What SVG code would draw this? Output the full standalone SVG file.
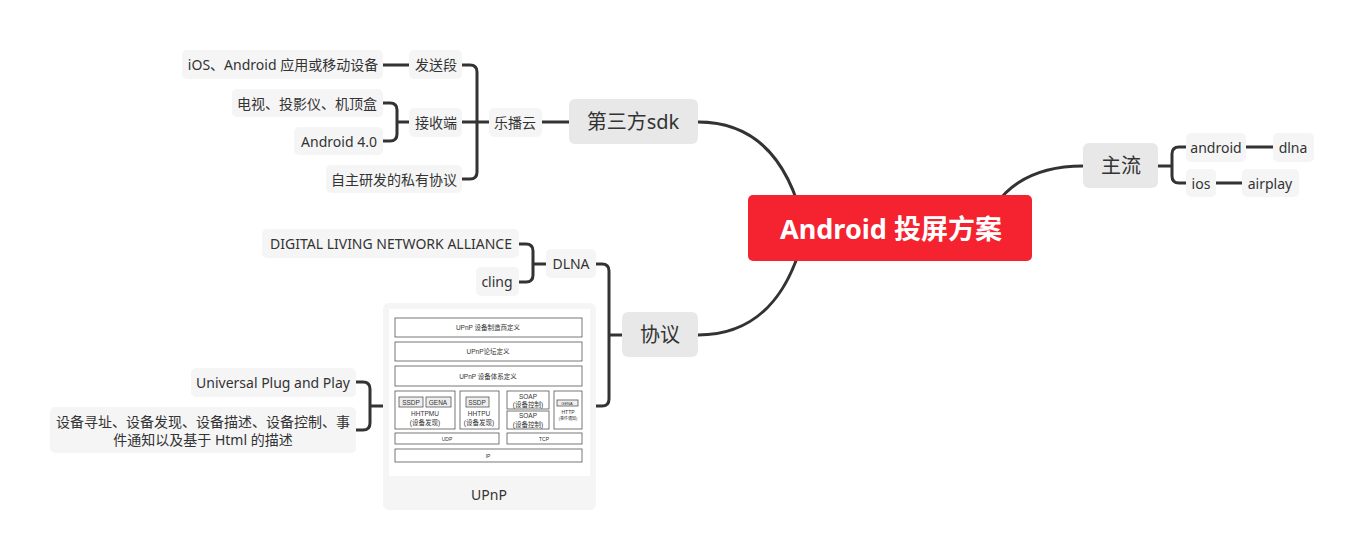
<svg xmlns="http://www.w3.org/2000/svg" width="1364" height="560" viewBox="0 0 1364 560">
<style>
.t{font-family:"Noto Sans","Noto Sans CJK SC",sans-serif;fill:#333;text-anchor:middle;dominant-baseline:central}
.s{font-size:14px}
.m{font-size:20px}
.sub{fill:#F5F5F5}
.main{fill:#E8E8E8}
.ln{fill:none;stroke:#333;stroke-width:3;stroke-linecap:round}
.ib{fill:#fff;stroke:#555;stroke-width:0.8}
.ig{fill:#eee;stroke:#555;stroke-width:0.8}
.it{font-family:"Liberation Sans","Noto Sans CJK SC",sans-serif;font-size:6.5px;fill:#333;text-anchor:middle;dominant-baseline:central}
</style>
<rect width="1364" height="560" fill="#fff"/>
<g id="connectors">
<path class="ln" d="M698 122 C755 122 790 160 805 230"/>
<path class="ln" d="M698 335 C755 335 790 297 805 230"/>
<path class="ln" d="M985 230 C995 190 1030 166 1083 166"/>
<path class="ln" d="M542 122 H569"/>
<path class="ln" d="M462 65 H470 Q477 65 477 72 V172 Q477 179 470 179 H462 M462 122 H489"/>
<path class="ln" d="M383 65 H409"/>
<path class="ln" d="M383 103 H390 Q397 103 397 110 V134 Q397 141 390 141 H383 M397 122 H409"/>
<path class="ln" d="M1158 166 H1172 M1186 147 H1179 Q1172 147 1172 154 V176 Q1172 183 1179 183 H1186"/>
<path class="ln" d="M1246 147 H1273 M1216 183 H1242"/>
<path class="ln" d="M519 244 H526 Q533 244 533 251 V275 Q533 282 526 282 H519 M533 264 H546"/>
<path class="ln" d="M596 264 H602 Q609 264 609 271 V399 Q609 406 602 406 H596 M609 335 H622"/>
<path class="ln" d="M356 382 H363 Q370 382 370 389 V423 Q370 430 363 430 H356 M370 406 H383"/>
</g>
<g id="root">
<rect x="748" y="195" width="284" height="66" rx="5" fill="#F5222F"/>
<text class="t" x="891" y="228" style="font-size:27px;font-weight:bold;fill:#fff">Android 投屏方案</text>
</g>
<g id="sdk">
<rect class="main" x="569" y="99" width="129" height="45" rx="6"/>
<text class="t m" x="633" y="121">第三方sdk</text>
</g>
<g id="xieyi">
<rect class="main" x="622" y="312" width="76" height="45" rx="6"/>
<text class="t m" x="660" y="334">协议</text>
</g>
<g id="zhuliu">
<rect class="main" x="1083" y="143" width="75" height="45" rx="6"/>
<text class="t m" x="1121" y="165">主流</text>
</g>
<g id="android">
<rect class="sub" x="1186" y="133" width="60" height="29" rx="5"/>
<text class="t s" x="1216" y="147">android</text>
</g>
<g id="dlna">
<rect class="sub" x="1273" y="133" width="41" height="29" rx="5"/>
<text class="t s" x="1293" y="147">dlna</text>
</g>
<g id="ios">
<rect class="sub" x="1186" y="169" width="30" height="28" rx="5"/>
<text class="t s" x="1201" y="183">ios</text>
</g>
<g id="airplay">
<rect class="sub" x="1242" y="169" width="57" height="28" rx="5"/>
<text class="t s" x="1270" y="183">airplay</text>
</g>
<g id="lebo">
<rect class="sub" x="489" y="108" width="53" height="29" rx="5"/>
<text class="t s" x="515" y="122">乐播云</text>
</g>
<g id="fasong">
<rect class="sub" x="409" y="50" width="53" height="29" rx="5"/>
<text class="t s" x="436" y="64">发送段</text>
</g>
<g id="jieshou">
<rect class="sub" x="409" y="108" width="53" height="29" rx="5"/>
<text class="t s" x="436" y="122">接收端</text>
</g>
<g id="siyou">
<rect class="sub" x="326" y="165" width="136" height="28" rx="5"/>
<text class="t s" x="394" y="179">自主研发的私有协议</text>
</g>
<g id="ios-android">
<rect class="sub" x="182" y="50" width="201" height="29" rx="5"/>
<text class="t s" x="283" y="64">iOS、Android 应用或移动设备</text>
</g>
<g id="tv">
<rect class="sub" x="232" y="89" width="151" height="28" rx="5"/>
<text class="t s" x="307" y="103">电视、投影仪、机顶盒</text>
</g>
<g id="android4">
<rect class="sub" x="294" y="127" width="89" height="28" rx="5"/>
<text class="t s" x="339" y="141">Android 4.0</text>
</g>
<g id="dlna-node">
<rect class="sub" x="546" y="249" width="50" height="29" rx="5"/>
<text class="t s" x="571" y="263">DLNA</text>
</g>
<g id="digital">
<rect class="sub" x="262" y="229" width="257" height="29" rx="5"/>
<text class="t s" x="391" y="243">DIGITAL LIVING NETWORK ALLIANCE</text>
</g>
<g id="cling">
<rect class="sub" x="476" y="267" width="43" height="29" rx="5"/>
<text class="t s" x="497" y="281">cling</text>
</g>
<g id="upnp">
<rect class="sub" x="383" y="303" width="213" height="207" rx="6"/>
<rect x="389" y="309" width="201" height="167" fill="#fff"/>
<rect class="ib" x="395" y="318" width="187" height="19"/>
<text class="it" x="488" y="327">UPnP 设备制造商定义</text>
<rect class="ib" x="395" y="342" width="187" height="19"/>
<text class="it" x="488" y="351">UPnP论坛定义</text>
<rect class="ib" x="395" y="366" width="187" height="20"/>
<text class="it" x="488" y="376">UPnP 设备体系定义</text>
<rect class="ib" x="395" y="391" width="60" height="38"/>
<rect class="ig" x="399" y="397" width="24" height="10"/>
<text class="it" x="411" y="402">SSDP</text>
<rect class="ig" x="426" y="397" width="25" height="10"/>
<text class="it" x="438" y="402">GENA</text>
<text class="it" x="425" y="413">HHTPMU</text>
<text class="it" x="425" y="422">(设备发现)</text>
<rect class="ib" x="460" y="391" width="39" height="38"/>
<rect class="ig" x="466" y="397" width="23" height="10"/>
<text class="it" x="477" y="402">SSDP</text>
<text class="it" x="479" y="413">HHTPU</text>
<text class="it" x="479" y="422">(设备发现)</text>
<rect class="ib" x="507" y="391" width="42" height="18"/>
<text class="it" x="528" y="396">SOAP</text>
<text class="it" x="528" y="404">(设备控制)</text>
<rect class="ib" x="507" y="411" width="42" height="18"/>
<text class="it" x="528" y="415">SOAP</text>
<text class="it" x="528" y="424">(设备控制)</text>
<rect class="ib" x="554" y="391" width="28" height="38"/>
<rect class="ig" x="557" y="400" width="21" height="6"/>
<text class="it" x="567" y="403" style="font-size:4px">GENA</text>
<text class="it" x="568" y="412" style="font-size:5px">HTTP</text>
<text class="it" x="568" y="418" style="font-size:4px">(事件通知)</text>
<rect class="ib" x="395" y="433" width="104" height="11"/>
<text class="it" x="447" y="438.5" style="font-size:5px">UDP</text>
<rect class="ib" x="507" y="433" width="75" height="11"/>
<text class="it" x="544" y="438.5" style="font-size:5px">TCP</text>
<rect class="ib" x="395" y="449" width="187" height="13"/>
<text class="it" x="488" y="455.5" style="font-size:5px">IP</text>
<text class="t s" x="489" y="494">UPnP</text>
</g>
<g id="upp">
<rect class="sub" x="191" y="368" width="165" height="29" rx="5"/>
<text class="t s" x="273" y="382">Universal Plug and Play</text>
</g>
<g id="desc">
<rect class="sub" x="50" y="407" width="306" height="46" rx="5"/>
<text class="t s" x="203" y="421">设备寻址、设备发现、设备描述、设备控制、事</text>
<text class="t s" x="203" y="439">件通知以及基于 Html 的描述</text>
</g>
</svg>
